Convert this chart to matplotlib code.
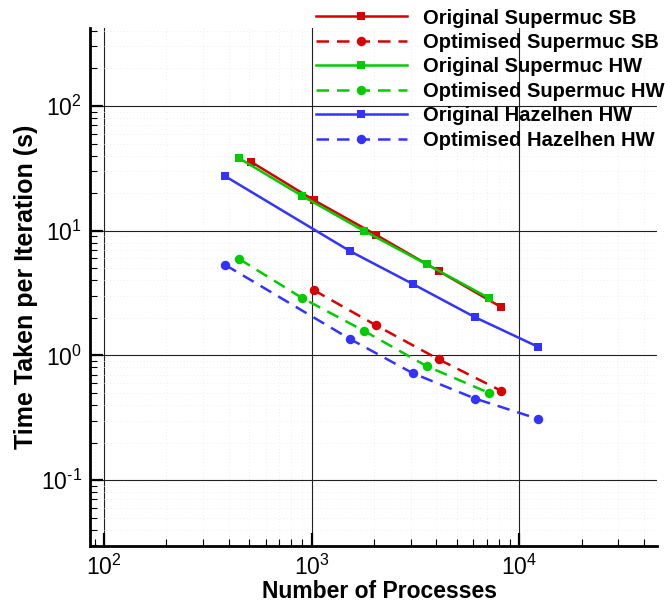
import matplotlib
matplotlib.use("Agg")
import math
import matplotlib.pyplot as plt
from matplotlib.ticker import LogLocator, NullFormatter, FuncFormatter

plt.rcParams['font.family'] = ['Liberation Sans', 'DejaVu Sans']
plt.rcParams['mathtext.fontset'] = 'custom'
plt.rcParams['mathtext.rm'] = 'Liberation Sans'
plt.rcParams['mathtext.it'] = 'Liberation Sans'
plt.rcParams['mathtext.bf'] = 'Liberation Sans:bold'
plt.rcParams['mathtext.default'] = 'regular'
plt.rcParams['axes.unicode_minus'] = False

# ---- data ----
procs_sb = [512, 1024, 2048, 4096, 8192]
orig_sb = [35.6, 17.6, 9.25, 4.75, 2.44]
procs_sb_opt = [1024, 2048, 4096, 8192]
opt_sb = [3.34, 1.74, 0.93, 0.52]

procs_hw = [448, 896, 1792, 3584, 7168]
orig_hw = [38.1, 19.1, 9.95, 5.38, 2.88]
opt_hw = [5.93, 2.90, 1.57, 0.82, 0.50]

procs_hh = [384, 1536, 3072, 6144, 12288]
orig_hh = [27.3, 6.84, 3.74, 2.02, 1.175]
opt_hh = [5.31, 1.35, 0.72, 0.45, 0.31]

labels = ["Original Supermuc SB", "Optimised Supermuc SB",
          "Original Supermuc HW", "Optimised Supermuc HW",
          "Original Hazelhen HW", "Optimised Hazelhen HW"]

RED = '#d80000'
GREEN = '#00cc00'
BLUE = '#3333ff'

W, H = 665, 609
fig = plt.figure(figsize=(W / 100, H / 100), dpi=100)
ax = fig.add_axes([90 / W, (H - 546) / H, (657 - 90) / W, (546 - 28) / H])

lw = 1.8
dash = (5, 3.2)
ms_sq = 5.8
ms_ci = 6.8

series = [
    (procs_sb, orig_sb, RED, '-', 's', ms_sq),
    (procs_sb_opt, opt_sb, RED, '--', 'o', ms_ci),
    (procs_hw, orig_hw, GREEN, '-', 's', ms_sq),
    (procs_hw, opt_hw, GREEN, '--', 'o', ms_ci),
    (procs_hh, orig_hh, BLUE, '-', 's', ms_sq),
    (procs_hh, opt_hh, BLUE, '--', 'o', ms_ci),
]
handles = []
for (x, y, c, ls, mk, ms), lab in zip(series, labels):
    kw = dict(color=c, lw=lw, marker=mk, markersize=ms, markeredgewidth=0,
              label=lab, zorder=3)
    if ls == '--':
        kw['dashes'] = dash
    else:
        kw['linestyle'] = '-'
    h, = ax.plot(x, y, **kw)
    handles.append(h)

ax.set_xscale('log')
ax.set_yscale('log')
ax.set_xlim(85.6, 46200)
ax.set_ylim(0.0296, 422)


def pow10(v, pos):
    e = int(round(math.log10(v)))
    es = str(e).replace('-', '\u2010')
    return '$10^{%s}$' % es


ax.xaxis.set_major_locator(LogLocator(base=10, numticks=20))
ax.yaxis.set_major_locator(LogLocator(base=10, numticks=20))
ax.xaxis.set_major_formatter(FuncFormatter(pow10))
ax.yaxis.set_major_formatter(FuncFormatter(pow10))
ax.xaxis.set_minor_locator(LogLocator(base=10, subs=range(2, 10), numticks=50))
ax.yaxis.set_minor_locator(LogLocator(base=10, subs=range(2, 10), numticks=50))
ax.xaxis.set_minor_formatter(NullFormatter())
ax.yaxis.set_minor_formatter(NullFormatter())

for s in ['top', 'right']:
    ax.spines[s].set_visible(False)
for s in ['left', 'bottom']:
    ax.spines[s].set_linewidth(2.0)

ax.tick_params(which='major', direction='in', length=9.5, width=1.6,
               labelsize=16.5, pad=6)
ax.tick_params(which='minor', direction='in', length=5, width=0.8)

ax.grid(True, which='major', color='#202020', lw=0.8, zorder=1)
ax.grid(True, which='minor', color='#e8e8e8', lw=0.6, linestyle=(0, (1, 3)), zorder=0)
ax.set_axisbelow(True)

ax.set_xlabel("Number of Processes", fontsize=16.5, fontweight='bold', labelpad=0)
ax.xaxis.label.set_x(0.51)
ax.set_ylabel("Time Taken per Iteration (s)", fontsize=18, fontweight='bold', labelpad=2)

leg = fig.legend(handles=handles, loc='upper left',
                 bbox_to_anchor=(316 / W, 1 - 8.5 / H), bbox_transform=fig.transFigure,
                 frameon=False, prop={'weight': 'bold', 'size': 14.5},
                 handlelength=4.5, handletextpad=0.8, labelspacing=0.27,
                 borderpad=0, borderaxespad=0)

fig.savefig("out.png", dpi=100)
